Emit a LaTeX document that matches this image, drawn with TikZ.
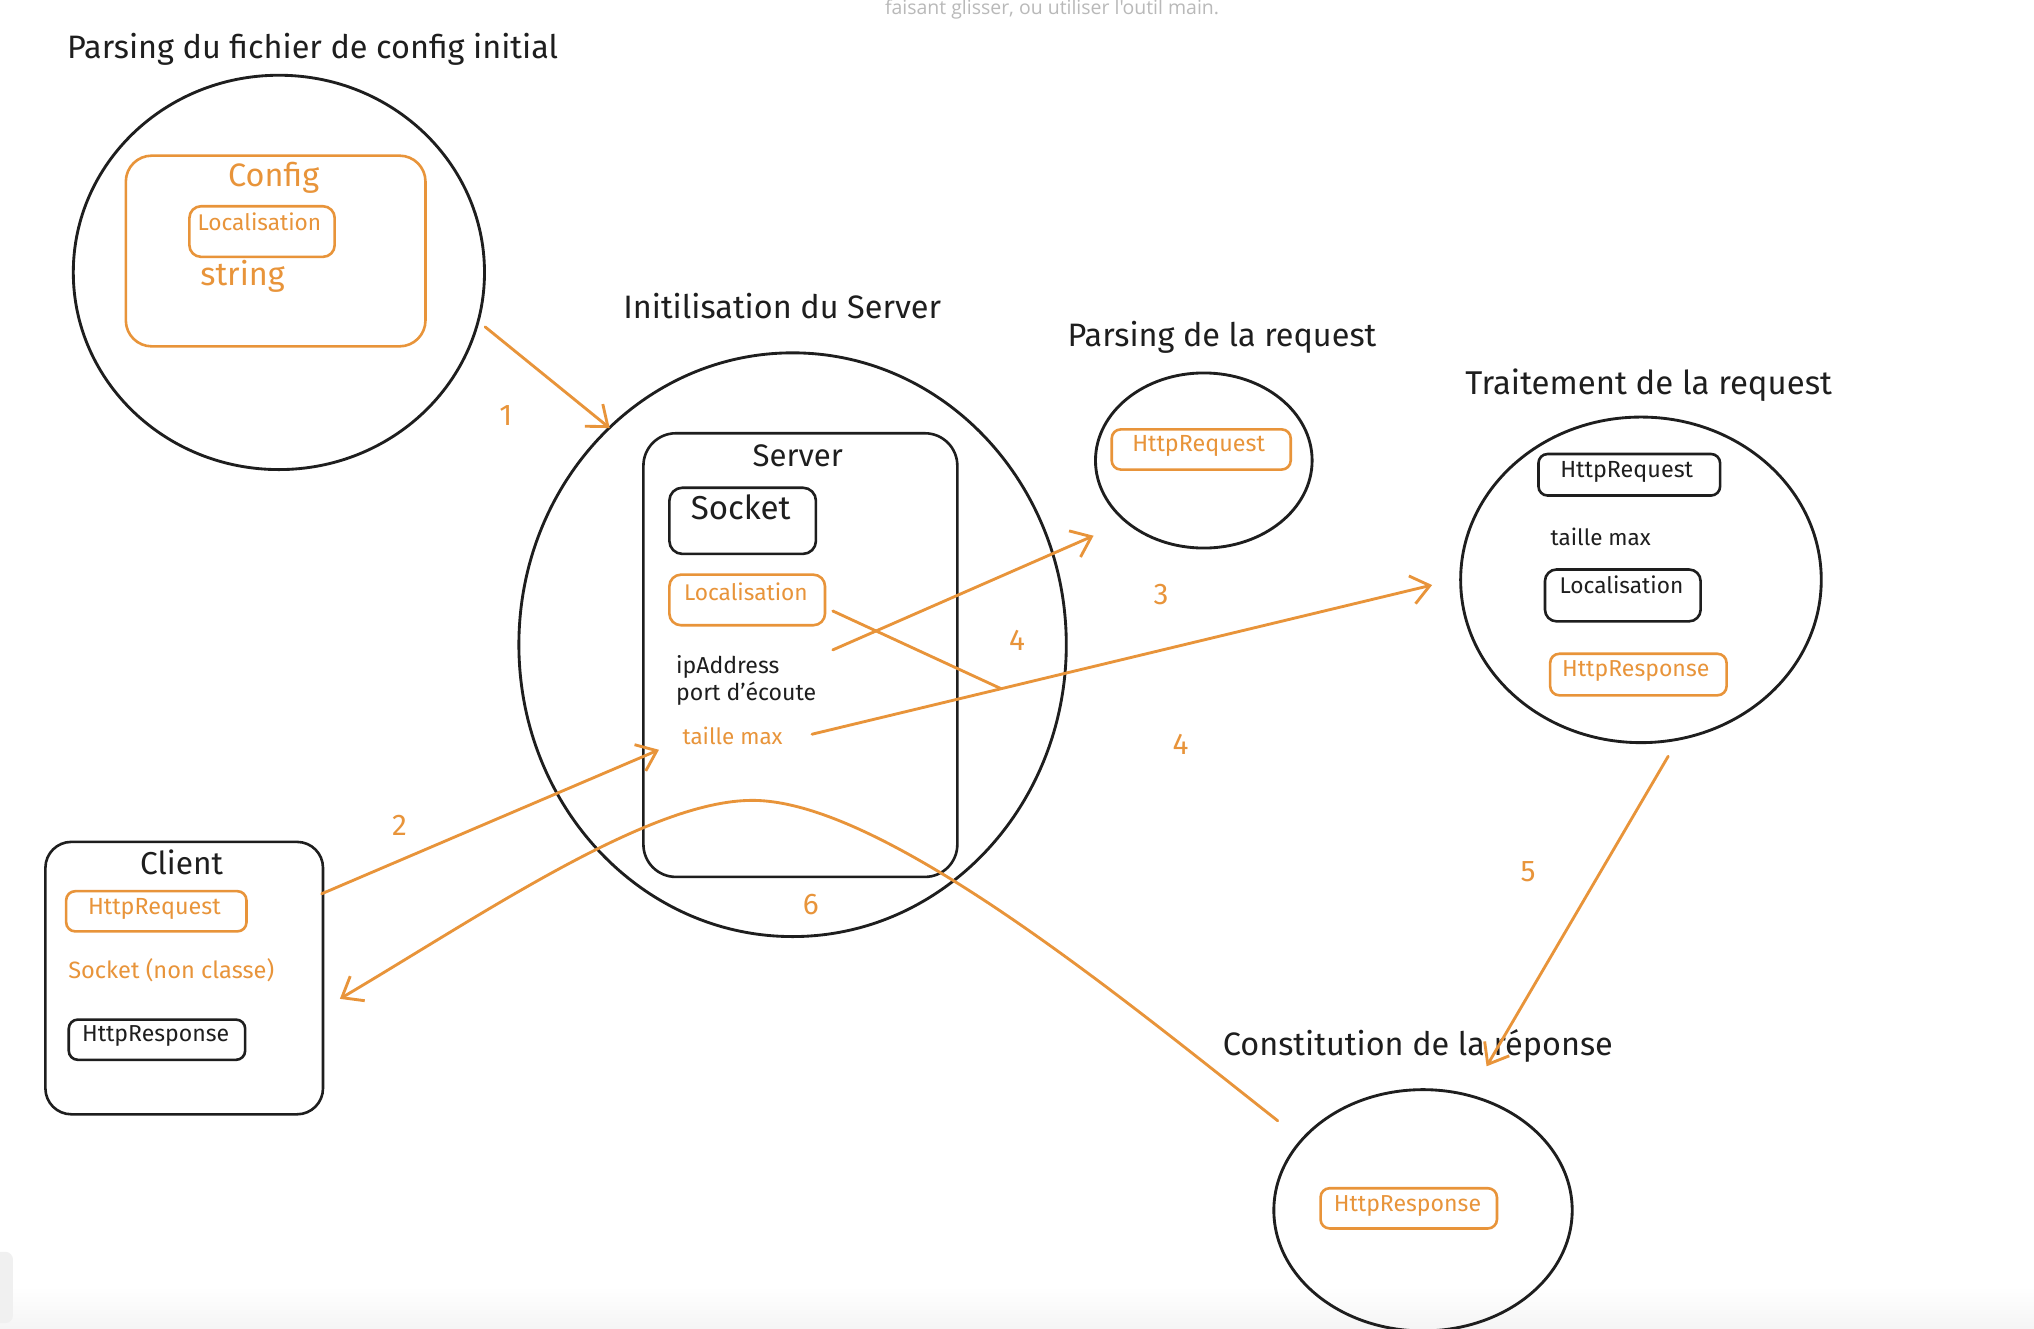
\documentclass[tikz,border=0pt]{standalone}
\usepackage{fontspec}
\setmainfont{Fira Sans}
\newfontfamily\uifont{Open Sans}
\usetikzlibrary{shapes.geometric,arrows.meta}
\definecolor{ora}{HTML}{E8943A}
\definecolor{ink}{HTML}{1E1E1E}
\newcommand\fsz[1]{\fontsize{#1}{#1}\selectfont}
\begin{document}
\begin{tikzpicture}[x=1pt,y=-1pt,
  circ/.style={draw=ink,ellipse,line width=2.2pt,inner sep=0pt},
  bbox/.style={draw=ink,rounded corners=#1,line width=2pt,inner sep=0pt,anchor=north west},
  obox/.style={draw=ora,rounded corners=#1,line width=2pt,inner sep=0pt,anchor=north west},
  ttl/.style={text=ink,inner sep=0pt,font=\fsz{#1}},
  otxt/.style={text=ora,inner sep=0pt,font=\fsz{#1}},
  ktxt/.style={text=ink,inner sep=0pt,font=\fsz{#1}},
  arr/.style={draw=ora,line width=2.2pt,line cap=round,-{Straight Barb[length=14pt,width=22pt,line width=2.2pt]}},
  oline/.style={draw=ora,line width=2.2pt,line cap=round},
  num/.style={text=ora,inner sep=0pt,font=\fsz{23}}]
\useasboundingbox (0,0) rectangle (1568,1024);
\fill[white] (0,0) rectangle (1568,1024);
\shade[top color=white,bottom color=gray!8] (0,992) rectangle (1568,1024);
\fill[gray!12,rounded corners=6pt] (-10,965) rectangle (10,1020);
\node[font=\uifont\fsz{15},text=gray!55,anchor=base,inner sep=0pt] (hint) at (811,11) {faisant glisser, ou utiliser l'outil main.};

% --- Parsing du fichier de config initial
\node[ttl=25] (t1) at (241,38) {Parsing du fichier de config initial};
\node[circ,minimum width=317pt,minimum height=304pt] (c1) at (215,210) {};
\node[obox=20pt,minimum width=231pt,minimum height=147pt] (cfg) at (96,119) {};
\node[otxt=25] (cfgt) at (211,137) {Config};
\node[obox=9pt,minimum width=112pt,minimum height=39pt] (loc1) at (145,158) {};
\node[otxt=17.5] (loc1t) at (200,171) {Localisation};
\node[otxt=25] (str) at (187,213) {string};

% --- Initilisation du Server
\node[ttl=25] (t2) at (603,236) {Initilisation du Server};
\node[circ,minimum width=422pt,minimum height=450pt] (c2) at (611,497) {};
\node[bbox=25pt,minimum width=242pt,minimum height=342pt] (srv) at (495,333) {};
\node[ktxt=24] (srvt) at (615,351) {Server};
\node[bbox=10pt,minimum width=113pt,minimum height=51pt] (sock) at (515,375) {};
\node[ktxt=25.5] (sockt) at (571,391) {Socket};
\node[obox=9pt,minimum width=120pt,minimum height=39pt] (loc2) at (515,442) {};
\node[otxt=17.5] (loc2t) at (575,456) {Localisation};
\node[ktxt=17.8,anchor=west] (ip) at (521,514) {ipAddress};
\node[ktxt=17.8,anchor=west] (port) at (521,535) {port d'écoute};
\node[otxt=17.3,anchor=west] (tmax) at (526,567) {taille max};

% --- Parsing de la request
\node[ttl=25] (t3) at (942,260) {Parsing de la request};
\node[circ,minimum width=167pt,minimum height=135pt] (c3) at (928,355) {};
\node[obox=7pt,minimum width=138pt,minimum height=31pt] (req3) at (856,330) {};
\node[otxt=18] (req3t) at (924,344) {HttpRequest};

% --- Traitement de la request
\node[ttl=25.4] (t4) at (1271,297) {Traitement de la request};
\node[circ,minimum width=278pt,minimum height=251pt] (c4) at (1265,447) {};
\node[bbox=7pt,minimum width=140pt,minimum height=32pt] (req4) at (1185,349) {};
\node[ktxt=18] (req4t) at (1254,364) {HttpRequest};
\node[ktxt=17.3] (tmax4) at (1234,414) {taille max};
\node[bbox=9pt,minimum width=120pt,minimum height=40pt] (loc4) at (1190,438) {};
\node[ktxt=17.5] (loc4t) at (1250,451) {Localisation};
\node[obox=7pt,minimum width=136pt,minimum height=32pt] (resp4) at (1194,503) {};
\node[otxt=17.8] (resp4t) at (1261,517) {HttpResponse};

% --- Constitution de la réponse
\node[ttl=25] (t5) at (1093,806) {Constitution de la réponse};
\node[circ,minimum width=230pt,minimum height=186pt] (c5) at (1097,933) {};
\node[obox=7pt,minimum width=136pt,minimum height=31pt] (resp5) at (1017,915) {};
\node[otxt=17.8] (resp5t) at (1085,930) {HttpResponse};

% --- Client
\node[bbox=20pt,minimum width=214pt,minimum height=210pt] (cli) at (34,648) {};
\node[ktxt=24.4] (clit) at (140,665) {Client};
\node[obox=7pt,minimum width=139pt,minimum height=31pt] (reqc) at (50,686) {};
\node[otxt=18] (reqct) at (119,701) {HttpRequest};
\node[otxt=18.2] (sockc) at (132,748) {Socket (non classe)};
\node[bbox=7pt,minimum width=136pt,minimum height=31pt] (respc) at (52,785) {};
\node[ktxt=17.8] (respct) at (120,799) {HttpResponse};

% --- connectors
\coordinate (a1s) at (374,252); \coordinate (a1e) at (470,330);
\coordinate (a2s) at (248,689); \coordinate (a2e) at (508,578);
\coordinate (a3s) at (642,501); \coordinate (a3e) at (843,413);
\coordinate (a4s) at (626,566); \coordinate (a4e) at (1104,451);
\coordinate (l4s) at (642,471);
\coordinate (a5s) at (1286,583); \coordinate (a5e) at (1146,822);
\coordinate (a6s) at (985,864); \coordinate (a6p) at (580,617); \coordinate (a6e) at (262,770);

\draw[arr] (a1s) -- (a1e);
\draw[arr] (a2s) -- (a2e);
\draw[arr] (a3s) -- (a3e);
\draw[arr] (a4s) -- coordinate[pos=0.305] (j4) (a4e);
\draw[oline] (l4s) -- (j4);
\draw[arr] (a5s) -- (a5e);
\draw[arr] (a6s) .. controls (862,767) and (680,617) .. (a6p)
              .. controls (500,617) and (372,705) .. (a6e);

\node[num] (n1) at (390,320) {1};
\node[num] (n2) at (308,636) {2};
\node[num] (n3) at (895,458) {3};
\node[num] (n4a) at (784,494) {4};
\node[num] (n4b) at (910,574) {4};
\node[num] (n5) at (1178,672) {5};
\node[num] (n6) at (625,697) {6};
\end{tikzpicture}
\end{document}
